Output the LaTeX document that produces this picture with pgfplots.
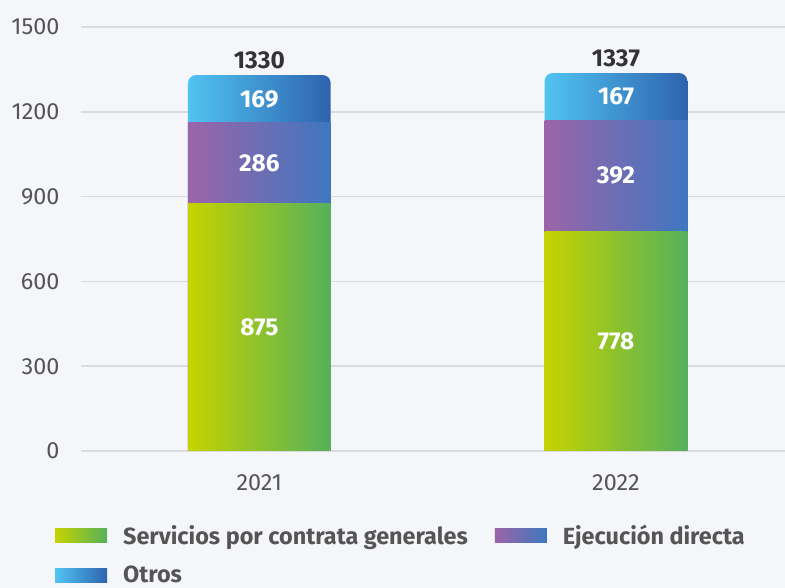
\documentclass[border=0pt]{standalone}
\usepackage{pgfplots}
\pgfplotsset{compat=1.18}
\usepackage{fontspec}
\setmainfont{Fira Sans}
\definecolor{bg}{HTML}{F5F6F9}
\definecolor{gridc}{HTML}{DADBDE}
\definecolor{tickc}{HTML}{555555}
\definecolor{darkc}{HTML}{333333}
\definecolor{gL}{HTML}{C6D300}
\definecolor{gR}{HTML}{55B15B}
\definecolor{pL}{HTML}{9C64A8}
\definecolor{pR}{HTML}{3E77C0}
\definecolor{bL}{HTML}{50C4F2}
\definecolor{bR}{HTML}{2E63AE}
\pgfplotsset{
  gradlegend/.style={legend image code/.code={\path[##1] (0bp,-7bp) rectangle (52bp,7bp);}},
  mybar/.style={ybar, bar width=0.4, bar shift=0pt, draw=none, forget plot},
  greenbar/.style={mybar, left color=gL, right color=gR},
  purplebar/.style={mybar, left color=pL, right color=pR},
  bluebar/.style={mybar, left color=bL, right color=bR, rounded corners=8bp},
}
\pgfplotstableread{
x y lab
0 437.5 875
0 1018 286
0 1245.5 169
1 389 778
1 974 392
1 1253.5 167
}\inlabels
\pgfplotstableread{
x y lab
0 1330 1330
1 1337 1337
}\totlabels
\begin{document}
\begin{tikzpicture}
\useasboundingbox (0,0) rectangle (785bp,588bp);
\fill[bg] (0,0) rectangle (785bp,588bp);
\begin{axis}[
  at={(81bp,137bp)}, anchor=south west, scale only axis,
  width=704bp, height=424bp,
  xmin=-0.5, xmax=1.474, ymin=0, ymax=1500,
  xtick={0,1}, xticklabels={2021,2022},
  ytick={0,300,...,1500},
  axis line style={draw=none}, tick style={draw=none},
  ymajorgrids, grid style={gridc, line width=1.6bp},
  /pgf/number format/assume math mode=true,
  /pgf/number format/1000 sep={},
  tick label style={font=\fontsize{23.5}{27}\selectfont, text=tickc},
  yticklabel style={anchor=east, xshift=-18bp},
  xticklabel style={anchor=north, yshift=-20bp},
  legend columns=2,
  legend cell align=left,
  legend style={at={(axis description cs:-0.037,-0.17)}, anchor=north west,
    draw=none, fill=none, inner sep=0pt, row sep=16bp,
    font=\bfseries\fontsize{23.5}{27}\selectfont, text=tickc,
    /tikz/every odd column/.append style={column sep=14bp},
    /tikz/every even column/.append style={column sep=25bp}},
]
% Otros (top segment, drawn first so that lower segments cover it)
\addplot[bluebar] coordinates {(0,1330)};
\addplot[bluebar] coordinates {(1,1337)};
% Ejecucion directa
\addplot[purplebar] coordinates {(0,1161)};
\addplot[purplebar] coordinates {(1,1170)};
% Servicios por contrata generales
\addplot[greenbar] coordinates {(0,875)};
\addplot[greenbar] coordinates {(1,778)};
\addplot[draw=none, mark=none, forget plot, nodes near coords, point meta=explicit symbolic,
  nodes near coords style={anchor=center, text=white, font=\bfseries\fontsize{24.5}{28}\selectfont}]
  table[x=x, y=y, meta=lab] {\inlabels};
\addplot[draw=none, mark=none, forget plot, nodes near coords, point meta=explicit symbolic,
  nodes near coords style={anchor=south, yshift=2.5bp, text=darkc, font=\bfseries\fontsize{24.5}{28}\selectfont}]
  table[x=x, y=y, meta=lab] {\totlabels};
\addlegendimage{gradlegend, left color=gL, right color=gR, draw=none}
\addlegendentry{Servicios por contrata generales}
\addlegendimage{gradlegend, left color=pL, right color=pR, draw=none}
\addlegendentry{Ejecución directa}
\addlegendimage{gradlegend, left color=bL, right color=bR, draw=none}
\addlegendentry{Otros}
\end{axis}
\end{tikzpicture}
\end{document}
